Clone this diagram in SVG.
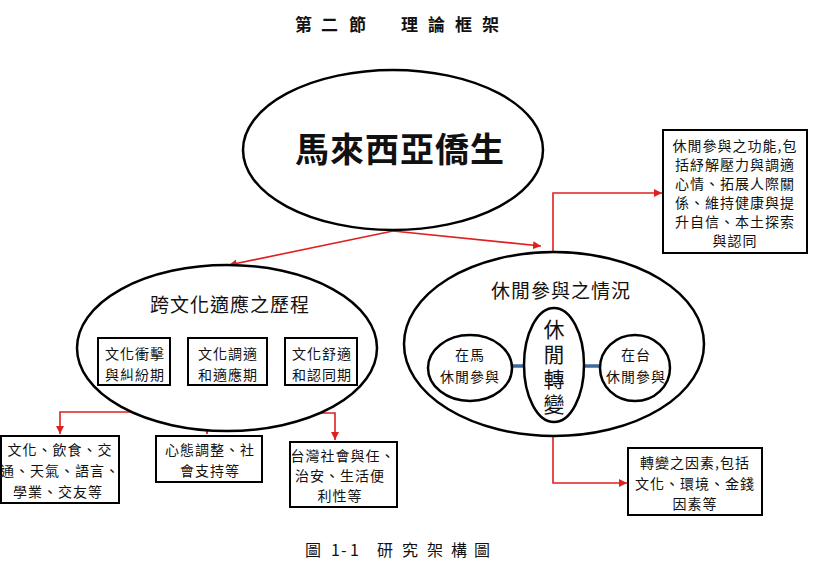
<svg xmlns="http://www.w3.org/2000/svg" width="813" height="583" viewBox="0 0 813 583">
<style>
text{font-family:"Noto Sans CJK TC","Noto Sans CJK SC",sans-serif;fill:#111;}
.ell{fill:#fff;stroke:#000;stroke-width:2.5;}
.box{fill:#fff;stroke:#000;stroke-width:2;}
.red{fill:none;stroke:#e02020;stroke-width:1.6;}
.blue{stroke:#3d6a9a;stroke-width:3.5;}
.t14{font-size:14px;text-anchor:middle;letter-spacing:1px;}
.t19{font-size:19px;text-anchor:middle;letter-spacing:1px;}
.v{font-size:21px;writing-mode:vertical-rl;letter-spacing:4px;}
</style>
<defs>
<marker id="arr" markerWidth="10" markerHeight="10" refX="8" refY="4" orient="auto" markerUnits="userSpaceOnUse">
<path d="M0,0 L8,4 L0,8 Z" fill="#e02020"/>
</marker>
</defs>
<rect width="813" height="583" fill="#fff"/>
<text x="295 321 349 401 428 455 482" y="31" font-size="17" font-weight="bold">第二節理論框架</text>
<text x="305 331 341 350 377 402 427 451 474" y="556" font-size="16">圖1-1研究架構圖</text>

<g id="connectors">
<polyline class="red" points="393,231 229,265" marker-end="url(#arr)"/>
<polyline class="red" points="393,231 541,246" marker-end="url(#arr)"/>
<polyline class="red" points="553,252 553,193 662,193" marker-end="url(#arr)"/>
<polyline class="red" points="134,385 134,412 60,412 60,434" marker-end="url(#arr)"/>
<polyline class="red" points="228,385 228,410 207,410 207,434" marker-end="url(#arr)"/>
<polyline class="red" points="321,385 321,413 335,413 335,440" marker-end="url(#arr)"/>
<polyline class="red" points="553,422 553,483 627,483" marker-end="url(#arr)"/>
</g>

<g id="root">
<ellipse class="ell" cx="393" cy="150" rx="150" ry="80"/>
<text x="400" y="162" font-size="34" text-anchor="middle" letter-spacing="1" font-weight="bold">馬來西亞僑生</text>
</g>

<g id="functions">
<rect class="box" x="663" y="130" width="144" height="123"/>
<text class="t14" x="735" y="151">休閒參與之功能,包</text>
<text class="t14" x="735" y="170">括紓解壓力與調適</text>
<text class="t14" x="735" y="189">心情、拓展人際關</text>
<text class="t14" x="735" y="208">係、維持健康與提</text>
<text class="t14" x="735" y="227">升自信、本土探索</text>
<text class="t14" x="735" y="246">與認同</text>
</g>

<g id="acculturation">
<ellipse class="ell" cx="227" cy="348" rx="150" ry="83"/>
<text class="t19" x="230" y="312">跨文化適應之歷程</text>
</g>
<g id="stage1">
<rect class="box" x="98" y="338" width="72" height="47"/>
<text class="t14" x="135" y="359">文化衝擊</text>
<text class="t14" x="135" y="380">與糾紛期</text>
</g>
<g id="stage2">
<rect class="box" x="188" y="338" width="79" height="47"/>
<text class="t14" x="228" y="359">文化調適</text>
<text class="t14" x="228" y="380">和適應期</text>
</g>
<g id="stage3">
<rect class="box" x="285" y="338" width="72" height="47"/>
<text class="t14" x="322" y="359">文化舒適</text>
<text class="t14" x="322" y="380">和認同期</text>
</g>

<g id="out1">
<rect class="box" x="1" y="436" width="118" height="67"/>
<text class="t14" x="60" y="455">文化、飲食、交</text>
<text class="t14" x="60" y="476">通、天氣、語言、</text>
<text class="t14" x="58" y="497">學業、交友等</text>
</g>
<g id="out2">
<rect class="box" x="156" y="436" width="106" height="46"/>
<text class="t14" x="210" y="455">心態調整、社</text>
<text class="t14" x="210" y="476">會支持等</text>
</g>
<g id="out3">
<rect class="box" x="290" y="442" width="107" height="65"/>
<text class="t14" x="343" y="461">台灣社會與任、</text>
<text class="t14" x="340" y="481">治安、生活便</text>
<text class="t14" x="340" y="501">利性等</text>
</g>

<g id="leisure">
<ellipse class="ell" cx="554" cy="344" rx="150" ry="92"/>
<text class="t19" x="561" y="298">休閒參與之情況</text>
</g>
<g id="links">
<line class="blue" x1="512" y1="366" x2="525" y2="366"/>
<line class="blue" x1="583" y1="366" x2="600" y2="366"/>
</g>
<g id="malaysia">
<ellipse class="ell" cx="470" cy="368" rx="42" ry="33"/>
<text class="t14" x="470" y="360">在馬</text>
<text class="t14" x="470" y="382">休閒參與</text>
</g>
<g id="change">
<ellipse class="ell" cx="554" cy="365" rx="30" ry="57"/>
<text class="v" x="554" y="319">休閒轉變</text>
</g>
<g id="taiwan">
<ellipse class="ell" cx="635" cy="368" rx="35" ry="33"/>
<text class="t14" x="636" y="360">在台</text>
<text class="t14" x="636" y="382">休閒參與</text>
</g>

<g id="factors">
<rect class="box" x="628" y="448" width="134" height="67"/>
<text class="t14" x="695" y="468">轉變之因素,包括</text>
<text class="t14" x="695" y="489">文化、環境、金錢</text>
<text class="t14" x="695" y="509">因素等</text>
</g>
</svg>
